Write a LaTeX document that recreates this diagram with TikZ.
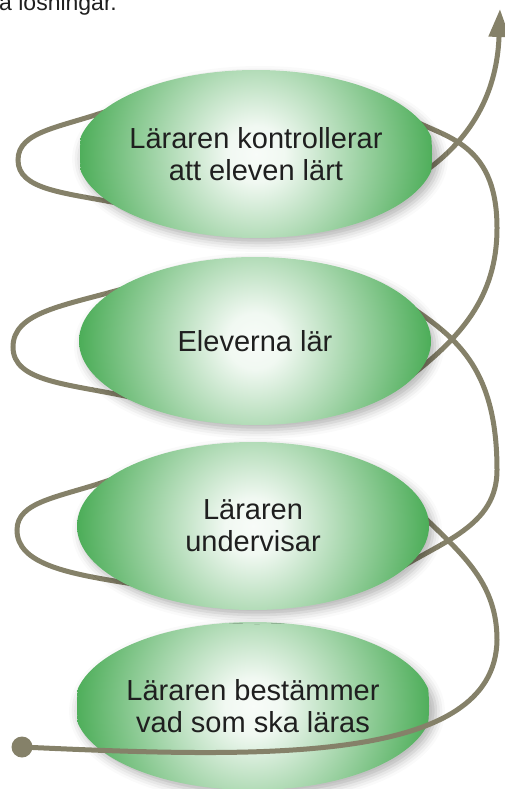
\documentclass[tikz,border=0pt]{standalone}
\usepackage{fontspec}
\setmainfont{Liberation Sans}
\usepackage{xcolor}
\usepackage{tikz}
\usetikzlibrary{arrows.meta,shapes.geometric,shadows.blur}
\definecolor{leaf}{HTML}{4CAD58}
\definecolor{strand}{HTML}{858169}
\definecolor{ink}{HTML}{1F1F1F}
\pgfdeclareradialshading{leafglow}{\pgfpoint{0bp}{0bp}}{color(0bp)=(white!96!leaf); color(4bp)=(white!92!leaf); color(25bp)=(leaf); color(50bp)=(leaf)}
\tikzset{
  stage/.style={ellipse, minimum width=352pt, minimum height=168pt, inner sep=0pt,
    align=center, text=ink, font=\fontsize{29}{32}\selectfont,
    blur shadow={shadow xshift=4pt, shadow yshift=-5pt, shadow blur radius=9pt, shadow opacity=30},
    path picture={\shade[shading=leafglow] (path picture bounding box.center) circle (176pt);}},
  helix/.style={draw=strand, line width=5pt, line cap=round},
  knot/.style={circle, fill=strand, inner sep=0pt, minimum size=21pt},
  lab/.style={text=ink, font=\fontsize{23}{26}\selectfont, inner sep=0pt},
  upper/.style={out=#1, in=90, out looseness=1.3, in looseness=0.7},
  lower/.style={out=-90, in=#1, out looseness=0.7, in looseness=1.3}
}

\begin{document}
\begin{tikzpicture}[x=1pt,y=1pt]
  \useasboundingbox (0,0) rectangle (505,-789);
  \node[lab,anchor=base west] (note) at (-1,-11) {a lösningar.};

  \node[stage] (s4) at (253,-706) {Läraren bestämmer\\vad som ska läras};

  % points of the strand, bottom to top
  \coordinate (r4)  at (497,-640);
  \coordinate (in3) at (424,-517);
  \coordinate (tl3) at (110,-480);
  \coordinate (w3)  at (17,-530);
  \coordinate (bl3) at (127,-583);
  \coordinate (out3) at (394,-572);
  \coordinate (r3)  at (497,-470);
  \coordinate (in2) at (405,-303);
  \coordinate (tl2) at (126,-288);
  \coordinate (w2)  at (13,-347);
  \coordinate (bl2) at (130,-397);
  \coordinate (out2) at (404,-381);
  \coordinate (r2)  at (497,-228);
  \coordinate (in1) at (406,-116);
  \coordinate (tl1) at (113,-109);
  \coordinate (w1)  at (18,-160);
  \coordinate (bl1) at (117,-203);
  \coordinate (out1) at (424,-172);
  \coordinate (tip) at (500,-9);

  \node[knot] (start) at (22,-747) {};
  \draw[helix,-{Triangle[length=28pt,width=20pt]}] (start.center)
    .. controls (260,-758) and (495,-765) .. (r4)
    to[out=90,in=-44] (in3)
    to[out=136,in=19,looseness=0.7] (tl3)
    to[upper=199] (w3)
    to[lower=171] (bl3)
    to[out=-9,in=213,looseness=0.7] (out3)
    to[out=33,in=-90] (r3)
    to[out=90,in=-34,out looseness=1.4,in looseness=0.8] (in2)
    to[out=146,in=16,looseness=0.7] (tl2)
    to[upper=196] (w2)
    to[lower=168] (bl2)
    to[out=-12,in=217,looseness=0.7] (out2)
    to[out=37,in=-90] (r2)
    to[out=90,in=-33,out looseness=1.6,in looseness=0.7] (in1)
    to[out=147,in=20,looseness=0.7] (tl1)
    to[upper=200] (w1)
    to[lower=169] (bl1)
    to[out=-11,in=215,looseness=0.7] (out1)
    to[out=35,in=-92] (tip);

  \node[stage] (s3) at (253,-526) {Läraren\\undervisar};
  \node[stage] (s2) at (255,-341) {Eleverna lär};
  \node[stage] (s1) at (256,-154) {Läraren kontrollerar\\att eleven lärt};
\end{tikzpicture}
\end{document}
